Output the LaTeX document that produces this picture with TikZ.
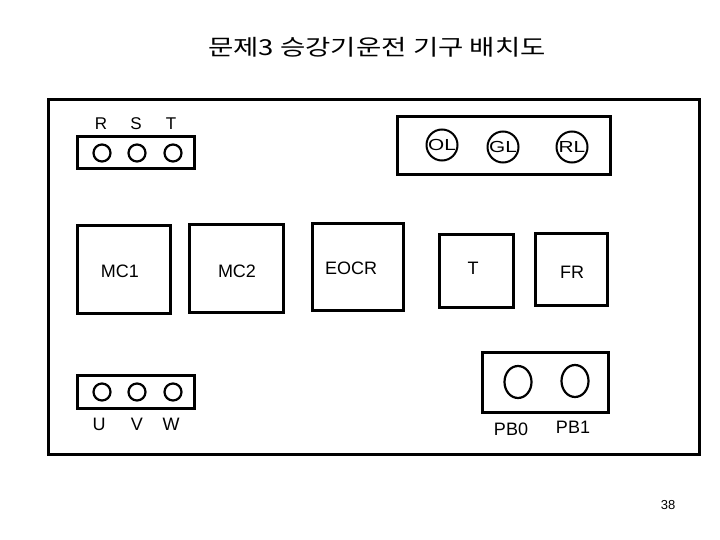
\documentclass[tikz,border=0pt]{standalone}
\usepackage{fontspec}
\setmainfont{Liberation Sans}
\newfontfamily\krfont{Noto Sans CJK KR}
\usetikzlibrary{shapes.geometric}
\begin{document}
\begin{tikzpicture}[x=1pt,y=-1pt,
  box/.style={draw,line width=3pt,inner sep=0pt},
  hole/.style={draw,circle,line width=2.2pt,minimum size=17pt,inner sep=0pt},
  lamp/.style={draw,circle,line width=2pt,minimum size=31pt,inner sep=0pt,font=\fontsize{16}{16}\selectfont},
  pb/.style={draw,ellipse,line width=2.2pt,minimum width=27pt,minimum height=32pt,inner sep=0pt},
  lab/.style={inner sep=0pt,font=\fontsize{18}{18}\selectfont},
  small/.style={inner sep=0pt,font=\fontsize{17}{17}\selectfont}
]
\useasboundingbox (0,0) rectangle (720,540);
% title
\node[inner sep=0pt,font=\krfont\fontsize{22}{22}\selectfont] (title) at (377,47) {\scalebox{1.25}[1]{문제3 승강기운전 기구 배치도}};
% frame
\node[box,minimum width=651pt,minimum height=354pt] (frame) at (373.5,277) {};
% RST terminal block
\node[box,minimum width=117pt,minimum height=32pt] (rst) at (135.5,153) {};
\node[hole] (hr) at (102,153) {};
\node[hole] (hs) at (137,153) {};
\node[hole] (ht) at (173,153) {};
\node[small] (lr) at (101,124) {R};
\node[small] (ls) at (136,124) {S};
\node[small] (lt) at (171,124) {T};
% lamp panel
\node[box,minimum width=213pt,minimum height=58pt] (lamps) at (503.5,146) {};
\node[lamp] (ol) at (442,145) {\scalebox{1.3}[1]{OL}};
\node[lamp] (gl) at (503,147) {\scalebox{1.3}[1]{GL}};
\node[lamp] (rl) at (572,147) {\scalebox{1.3}[1]{RL}};
% devices
\node[box,minimum width=93pt,minimum height=87pt] (mc1) at (123.5,269.5) {};
\node[lab] (tmc1) at (120,271) {MC1};
\node[box,minimum width=94pt,minimum height=87pt] (mc2) at (236,268.5) {};
\node[lab] (tmc2) at (237,271) {MC2};
\node[box,minimum width=91pt,minimum height=86pt] (eocr) at (357.5,267) {};
\node[lab] (teocr) at (351,268) {EOCR};
\node[box,minimum width=74pt,minimum height=73pt] (tbox) at (476,270.5) {};
\node[lab] (tt) at (473,268) {T};
\node[box,minimum width=72pt,minimum height=72pt] (fr) at (571,269) {};
\node[lab] (tfr) at (572,272) {FR};
% UVW terminal block
\node[box,minimum width=117pt,minimum height=33pt] (uvw) at (135.5,391.5) {};
\node[hole] (hu) at (102,392) {};
\node[hole] (hv) at (137,392) {};
\node[hole] (hw) at (173,392) {};
\node[lab] (lu) at (99,424) {U};
\node[lab] (lv) at (137,424) {V};
\node[lab] (lw) at (171,424) {W};
% push buttons
\node[box,minimum width=126pt,minimum height=60pt] (pbbox) at (545,382) {};
\node[pb] (pb0) at (518,382) {};
\node[pb] (pb1) at (575,381) {};
\node[lab] (lpb0) at (511,429) {PB0};
\node[lab] (lpb1) at (573,427) {PB1};
% page number
\node[inner sep=0pt,font=\fontsize{13}{13}\selectfont] (page) at (668,505) {38};
\end{tikzpicture}
\end{document}
